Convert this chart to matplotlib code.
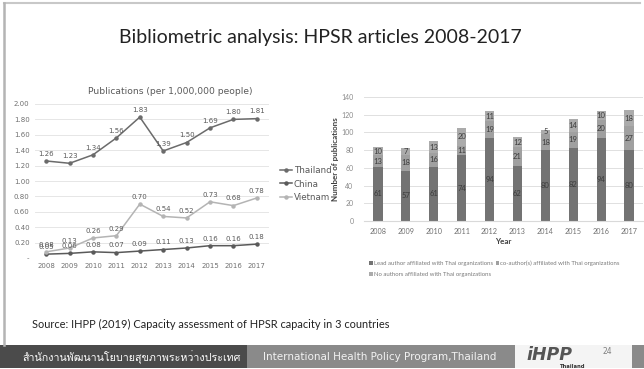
import matplotlib
matplotlib.use("Agg")
import matplotlib.pyplot as plt
from matplotlib.patches import Rectangle
from matplotlib.lines import Line2D
from matplotlib import font_manager
from matplotlib.ft2font import FT2Font
import numpy as np

## data
years = ['2008', '2009', '2010', '2011', '2012', '2013', '2014', '2015', '2016', '2017']
thailand = [1.26, 1.23, 1.34, 1.56, 1.83, 1.39, 1.50, 1.69, 1.80, 1.81]
china = [0.05, 0.06, 0.08, 0.07, 0.09, 0.11, 0.13, 0.16, 0.16, 0.18]
vietnam = [0.08, 0.13, 0.26, 0.29, 0.70, 0.54, 0.52, 0.73, 0.68, 0.78]

lead_author = [61, 57, 61, 74, 94, 62, 80, 82, 94, 80]
co_author = [13, 18, 16, 11, 19, 21, 18, 19, 20, 27]
no_author = [10, 7, 13, 20, 11, 12, 5, 14, 10, 18]

W, H = 644, 369

##find a font that can draw Thai, fall back to DejaVu
thai_font = 'DejaVu Sans'
for f in font_manager.fontManager.ttflist:
    try:
        if 0x0E2A in FT2Font(f.fname).get_charmap():
            thai_font = f.name
            break
    except Exception:
        pass

def fx(x):
    return x / W

def fy(y):
    return 1 - y / H

def axrect(x0, y0, x1, y1):
    ##pixel box (top-left origin) -> figure rect
    return [fx(x0), fy(y1), fx(x1) - fx(x0), fy(y0) - fy(y1)]

fig = plt.figure(figsize=(W / 100, H / 100), dpi=100)
fig.patch.set_facecolor('white')

##slide frame
fig.add_artist(Line2D([fx(4), fx(640)], [fy(3), fy(3)], color='#c8c8c8', lw=1.5))
fig.add_artist(Line2D([fx(4), fx(4)], [fy(3), fy(345)], color='#b4b4b4', lw=1.8))

fig.text(fx(320), fy(37), 'Bibliometric analysis: HPSR articles 2008-2017',
         ha='center', va='center', fontsize=14, family='Lato', color='#222222')

##left chart: line chart
ax1 = fig.add_axes(axrect(34.5, 104, 268.5, 258))
x = np.arange(len(years))
series = [('Thailand', thailand, '#6b6b6b'),
          ('China', china, '#5a5a5a'),
          ('Vietnam', vietnam, '#b4b4b4')]
for name, vals, col in series:
    ax1.plot(x, vals, color=col, lw=1.1, marker='o', markersize=2.2, label=name)
    for xi, v in zip(x, vals):
        ax1.annotate('%.2f' % v, (xi, v), xytext=(0, 3), textcoords='offset points',
                     ha='center', va='bottom', fontsize=5, color='#595959', family='DejaVu Sans')
ax1.set_xlim(-0.5, len(years) - 0.5)
ax1.set_ylim(0, 2.0)
ax1.set_yticks(np.arange(0, 2.01, 0.2))
ax1.set_yticklabels(['-'] + ['%.2f' % t for t in np.arange(0.2, 2.01, 0.2)])
ax1.set_xticks(x)
ax1.set_xticklabels(years)
ax1.tick_params(length=0, labelsize=5, labelcolor='#707070', pad=3.5)
for lbl in ax1.get_xticklabels() + ax1.get_yticklabels():
    lbl.set_family('DejaVu Sans')
ax1.grid(axis='y', color='#e6e6e6', lw=0.7)
ax1.set_axisbelow(True)
for sp in ax1.spines.values():
    sp.set_visible(False)
fig.text(fx(170), fy(92), 'Publications (per 1,000,000 people)', ha='center', va='center',
         fontsize=6.6, color='#595959', family='DejaVu Sans')
ax1.legend(loc='center left', bbox_to_anchor=(fx(272), fy(184)), bbox_transform=fig.transFigure,
           frameon=False, handlelength=1.4, handletextpad=0.2, labelspacing=0.5,
           labelcolor='#595959', prop={'family': 'DejaVu Sans', 'size': 6.3})

##right chart: stacked bars
ax2 = fig.add_axes(axrect(364, 97, 643, 221))
c_lead, c_co, c_no = '#737373', '#a0a0a0', '#ababab'
b1 = ax2.bar(x, lead_author, width=0.33, color=c_lead,
             label='Lead author affiliated with Thai organizations')
bottom2 = np.array(lead_author)
b2 = ax2.bar(x, co_author, width=0.33, bottom=bottom2, color=c_co,
             label='co-author(s) affiliated with Thai organizations')
bottom3 = bottom2 + np.array(co_author)
b3 = ax2.bar(x, no_author, width=0.33, bottom=bottom3, color=c_no,
             label='No authors affiliated with Thai organizations')
for bars in (b1, b2, b3):
    ax2.bar_label(bars, label_type='center', fontsize=5.5, color='#3c3c3c', family='Lato')
ax2.set_xlim(-0.5, len(years) - 0.5)
ax2.set_ylim(0, 140)
ax2.set_yticks(range(0, 141, 20))
ax2.set_xticks(x)
ax2.set_xticklabels(years)
ax2.tick_params(axis='y', length=0, labelsize=5, labelcolor='#8a8a8a', pad=7.5)
ax2.tick_params(axis='x', length=0, labelsize=5.2, labelcolor='#707070', pad=5)
for lbl in ax2.get_xticklabels() + ax2.get_yticklabels():
    lbl.set_family('Lato')
ax2.grid(axis='y', color='#e0e0e0', lw=0.7)
ax2.set_axisbelow(True)
for sp in ['top', 'right', 'left']:
    ax2.spines[sp].set_visible(False)
ax2.spines['bottom'].set_color('#d9d9d9')
ax2.set_ylabel('Number of publications', fontsize=5.8, fontweight='bold', color='#404040',
               family='Lato', labelpad=1.5)
ax2.set_xlabel('Year', fontsize=5.8, fontweight='bold', color='#404040', family='Lato', labelpad=2.5)
handles = [b1, b3, b2]
ax2.legend(handles, [h.get_label() for h in handles], ncol=2, loc='upper left',
           bbox_to_anchor=(fx(367), fy(258)), bbox_transform=fig.transFigure, frameon=False,
           handlelength=0.6, handleheight=0.6, handletextpad=0.2, columnspacing=0.4,
           labelspacing=1.0, borderaxespad=0, labelcolor='#7a7a7a',
           prop={'family': 'Lato', 'size': 4.3})

fig.text(fx(32), fy(324), 'Source: IHPP (2019) Capacity assessment of HPSR capacity in 3 countries',
         ha='left', va='center', fontsize=7.9, family='Lato', color='#222222')

##footer bar
fig.add_artist(Rectangle((fx(0), fy(368)), fx(247), fy(345) - fy(368), color='#4b4b4b', lw=0))
fig.add_artist(Rectangle((fx(247), fy(368)), fx(268), fy(345) - fy(368), color='#8a8a8a', lw=0))
fig.add_artist(Rectangle((fx(515), fy(368)), fx(117), fy(345) - fy(368), color='#f4f4f4', lw=0))
fig.add_artist(Rectangle((fx(632), fy(368)), fx(12), fy(345) - fy(368), color='#8a8a8a', lw=0))
fig.text(fx(22), fy(357), 'สำนักงานพัฒนานโยบายสุขภาพระหว่างประเทศ', ha='left', va='center',
         fontsize=7.7, color='white', family=[thai_font, 'DejaVu Sans'])
fig.text(fx(263), fy(357), 'International Health Policy Program,Thailand', ha='left', va='center',
         fontsize=7.5, color='#f2f2f2', family='DejaVu Sans')
fig.text(fx(526), fy(354.5), 'iHPP', ha='left', va='center', fontsize=12.5, fontweight='bold',
         style='italic', color='#555555', family='DejaVu Sans')
fig.text(fx(559), fy(366), 'Thailand', ha='left', va='center', fontsize=3.8, fontweight='bold',
         color='#333333', family='DejaVu Sans')
fig.text(fx(607), fy(351), '24', ha='center', va='center', fontsize=5.5, color='#808080',
         family='DejaVu Sans')

fig.savefig('out.png', dpi=100)
